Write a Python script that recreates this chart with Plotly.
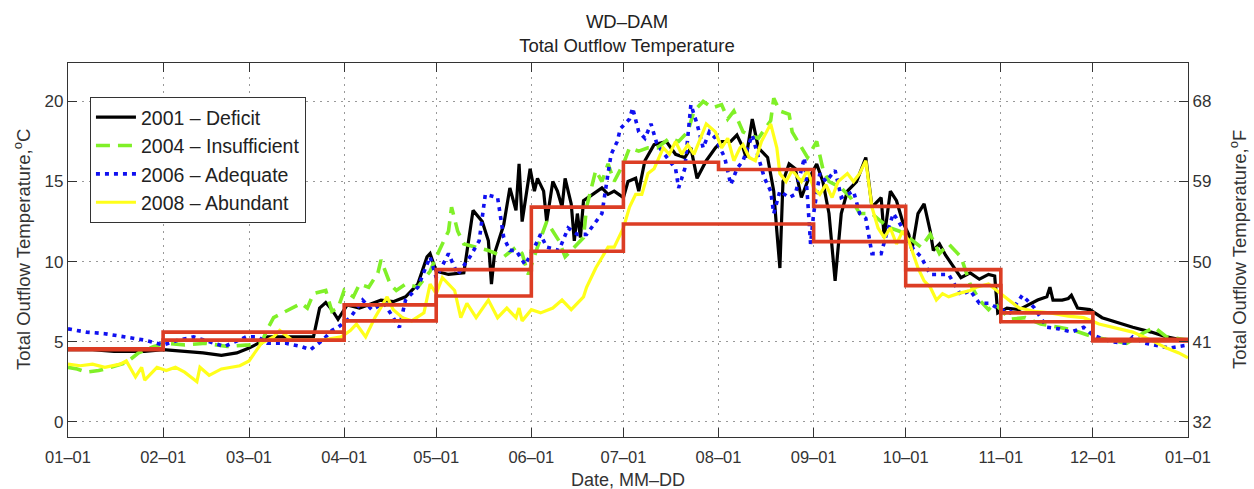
import pandas as pd
import plotly.graph_objects as go

# ---------------- data (day of year offset from 01-01, temperature in deg C) ----------------
deficit_days = [0, 8, 15, 25, 31, 38, 44, 50, 55, 59, 63, 65, 72, 80, 82, 84, 86, 88, 91, 95, 98, 102, 106, 110,
                114, 117, 118, 120, 124, 129, 132, 135, 137, 138, 139, 142, 144, 146, 147, 148, 150.6, 152, 153,
                155, 156, 158, 159.5, 161, 162, 164, 165, 166, 167, 168, 171, 174, 176, 178, 181, 182.5, 185, 186,
                188, 191, 195, 198, 201, 203, 205, 208, 211, 213, 216, 218, 220, 221, 223, 225, 228, 230, 231, 232,
                233, 235, 237, 239, 241, 244, 246, 248, 250, 252, 254, 257, 260, 262, 265, 266, 268, 270, 272, 274,
                275, 277, 279, 281, 282, 284, 286, 289, 291, 294, 297, 300, 302, 303, 306, 310, 313, 316, 319, 320,
                321, 324, 326, 327, 329, 333, 337, 342, 347, 353, 358, 362, 365]
deficit_vals = [4.5, 4.5, 4.4, 4.4, 4.5, 4.4, 4.3, 4.15, 4.3, 4.6, 5.0, 5.3, 5.3, 5.3, 7.1, 7.45, 7.0, 6.4, 7.3, 7.1,
                7.3, 7.6, 7.5, 7.8, 8.6, 10.3, 10.5, 9.4, 9.2, 9.3, 13.2, 12.5, 11.3, 8.6, 10.5, 12.3, 14.6, 13.2,
                16.1, 12.5, 15.8, 14.4, 15.2, 14.4, 12.5, 15.0, 14.4, 13.4, 15.2, 13.6, 11.3, 13.0, 11.5, 13.8, 14.2,
                14.6, 14.2, 14.4, 14.0, 15.0, 15.2, 14.4, 16.3, 17.3, 17.5, 16.7, 16.5, 17.1, 15.2, 16.3, 17.1, 17.5,
                17.5, 17.9, 17.1, 16.5, 18.9, 17.1, 16.5, 14.4, 11.9, 9.6, 15.0, 16.1, 15.8, 14.0, 15.0, 16.1, 15.0,
                13.0, 8.8, 13.0, 14.4, 15.0, 16.5, 13.4, 14.0, 11.5, 14.4, 13.8, 12.5, 11.7, 10.7, 13.0, 13.6, 11.9,
                10.7, 11.1, 10.4, 9.6, 9.0, 9.3, 8.9, 9.2, 9.1, 6.8, 7.1, 7.0, 7.3, 7.6, 7.8, 8.4, 7.6, 7.6, 7.7,
                7.9, 7.1, 7.0, 6.5, 6.2, 5.9, 5.6, 5.3, 5.15, 5.1]

insuff_days = [0, 3, 6, 10, 14, 19, 23, 28, 32, 38, 45, 52, 59, 63, 65, 67, 71, 76, 78, 80, 84, 86, 88, 90, 93, 95,
               98, 101, 102, 104, 105, 107, 110, 114, 118, 121, 124, 125, 127, 129, 133, 137, 142, 146, 148, 150,
               153, 156, 160, 162, 165, 168, 169, 172, 174, 176, 178, 181, 183, 186, 189, 192, 196, 199, 202, 204,
               207, 210, 213, 215, 217, 220, 222, 225, 229, 230, 232, 235, 236, 239, 241, 244, 246, 248, 252, 255,
               258, 262, 265, 268, 271, 274, 278, 281, 284, 287, 291, 294, 297, 300, 302, 304, 307, 312, 317, 323,
               328, 334, 340, 345, 350, 354, 358, 365]
insuff_vals = [3.4, 3.3, 3.1, 3.2, 3.4, 3.7, 4.3, 4.7, 4.9, 4.8, 4.9, 4.7, 4.8, 4.9, 5.8, 6.5, 6.9, 7.4, 7.1, 8.0,
               8.2, 6.9, 7.1, 8.2, 7.8, 8.6, 8.4, 9.3, 10.1, 9.0, 8.6, 8.2, 8.6, 8.4, 9.4, 10.7, 11.9, 13.4, 11.9,
               11.1, 10.9, 10.7, 10.3, 10.9, 10.5, 9.2, 10.9, 12.5, 11.3, 10.3, 10.9, 11.5, 13.4, 15.7, 15.0, 16.1,
               15.0, 16.1, 17.1, 16.9, 17.1, 17.1, 17.7, 17.5, 18.1, 19.4, 20.0, 19.6, 19.8, 18.9, 19.4, 18.1, 17.9,
               17.7, 18.8, 20.2, 19.4, 19.2, 18.1, 17.1, 16.5, 17.5, 15.8, 15.0, 14.6, 14.0, 13.0, 13.0, 12.5, 12.1,
               11.9, 11.5, 10.9, 11.7, 10.5, 11.1, 10.3, 8.6, 7.6, 7.0, 7.4, 7.0, 6.4, 6.5, 6.1, 5.9, 5.7, 5.3, 5.1,
               4.9, 5.5, 5.9, 5.3, 5.1]

adequate_days = [0, 6, 12, 19, 25, 31, 36, 41, 46, 51, 58, 62, 65, 71, 76, 79, 83, 86, 88, 92, 96, 99, 103, 106,
                 108, 110, 114, 118, 120, 124, 127, 131, 134, 136, 140, 142, 144, 146, 149, 152, 154, 156, 160, 163,
                 166, 169, 172, 174, 176, 177, 179, 180, 183, 184, 186, 188, 190, 192, 196, 198, 199, 201, 203, 205,
                 207, 209, 211, 214, 216, 218, 220, 223, 225, 227, 229, 230, 232, 235, 237, 240, 241, 242, 243, 245,
                 247, 250, 252, 256, 258, 260, 262, 265, 267, 269, 272, 274, 278, 281, 284, 287, 291, 294, 297, 300,
                 304, 307, 311, 315, 319, 323, 327, 331, 334, 340, 345, 347, 351, 359, 365]
adequate_vals = [5.8, 5.6, 5.5, 5.3, 5.1, 4.8, 5.1, 5.3, 5.0, 4.7, 5.3, 5.3, 4.9, 4.9, 4.7, 4.5, 5.1, 5.7, 5.9,
                 6.5, 7.6, 7.0, 7.4, 6.5, 5.9, 7.6, 8.4, 10.3, 9.0, 10.5, 9.2, 10.3, 11.3, 14.2, 14.0, 11.5, 10.7,
                 10.7, 9.8, 10.9, 11.7, 10.9, 10.7, 12.1, 11.7, 11.7, 12.5, 13.0, 15.5, 16.7, 17.5, 18.3, 18.9, 19.6,
                 18.1, 17.7, 18.6, 17.3, 16.3, 15.8, 14.6, 15.8, 19.8, 18.6, 17.1, 18.1, 17.7, 16.5, 14.8, 15.8, 16.3,
                 17.9, 16.5, 15.2, 14.4, 13.0, 14.4, 14.0, 14.2, 16.5, 14.0, 11.1, 13.0, 15.5, 15.0, 15.7, 14.0, 14.4,
                 13.0, 12.7, 10.5, 10.5, 11.9, 13.0, 12.1, 11.1, 10.3, 9.2, 9.2, 9.2, 7.9, 8.2, 7.4, 7.4, 7.0, 6.8,
                 7.9, 7.1, 5.9, 5.8, 5.6, 5.9, 5.4, 5.0, 4.9, 5.3, 4.9, 4.6, 4.8]

abundant_days = [0, 4, 8, 12, 17, 19, 22, 24, 25, 29, 32, 35, 38, 42, 43, 46, 50, 56, 59, 63, 67, 69, 73, 78, 83,
                 89, 92, 94, 97, 100, 104, 106, 109, 112, 116, 118, 120, 122, 126, 128, 130, 133, 137, 140, 143, 146,
                 147, 148, 151, 154, 158, 161, 164, 168, 169, 172, 174, 176, 178, 181, 183, 185, 187, 189, 191, 194,
                 196, 198, 200, 202, 204, 208, 211, 213, 215, 217, 219, 220, 222, 224, 226, 229, 231, 232, 234, 236,
                 239, 241, 243, 245, 247, 249, 251, 254, 256, 258, 260, 262, 264, 266, 268, 270, 272, 274, 277, 279,
                 281, 283, 285, 287, 290, 294, 296, 300, 304, 306, 310, 315, 320, 326, 331, 336, 342, 347, 353, 358,
                 362, 365]
abundant_vals = [3.6, 3.5, 3.6, 3.4, 3.6, 3.8, 2.8, 3.4, 2.6, 3.4, 3.2, 3.4, 3.1, 2.5, 3.4, 2.9, 3.3, 3.5, 3.8,
                 4.9, 5.3, 5.7, 5.1, 5.1, 5.1, 5.3, 5.7, 6.1, 5.3, 6.5, 7.8, 7.0, 6.5, 6.3, 6.8, 8.6, 8.0, 9.0, 8.2,
                 6.5, 7.4, 6.5, 7.6, 6.5, 7.1, 6.5, 7.1, 6.3, 7.0, 6.8, 7.1, 7.6, 7.0, 7.8, 8.4, 9.6, 10.3, 10.9,
                 10.9, 12.1, 13.4, 14.2, 14.2, 15.5, 15.8, 17.1, 16.7, 17.5, 16.7, 17.3, 16.7, 18.6, 18.1, 17.1, 17.7,
                 16.3, 17.1, 17.3, 16.5, 16.3, 17.5, 18.6, 17.1, 15.5, 15.0, 15.7, 15.0, 15.7, 14.6, 14.2, 14.8, 14.0,
                 15.0, 15.5, 15.0, 15.5, 16.3, 13.4, 12.1, 11.5, 12.1, 11.1, 11.9, 11.3, 9.6, 8.8, 8.4, 7.6, 8.0, 7.8,
                 8.0, 8.2, 8.4, 8.6, 8.0, 7.7, 7.1, 6.9, 6.8, 6.6, 6.5, 6.1, 5.8, 5.6, 5.1, 4.6, 4.3, 4.0]

# monthly step targets (two red step lines), month starts plus the year end
step_days = [0, 31, 59, 90, 120, 151, 181, 212, 243, 273, 304, 334, 365]
step_upper = [4.55, 5.6, 5.6, 7.3, 9.5, 13.4, 16.2, 15.75, 13.45, 9.5, 6.8, 5.15, 5.15]
step_lower = [4.5, 5.1, 5.1, 6.3, 7.85, 10.65, 12.35, 12.35, 11.25, 8.5, 6.25, 5.05, 5.05]

legend_names = ["2001 – Deficit", "2004 – Insufficient", "2006 – Adequate", "2008 – Abundant"]
f_ticks = [32, 41, 50, 59, 68]
c_ticks = [0, 5, 10, 15, 20]

# ---------------- build figure ----------------
start = pd.Timestamp("2001-01-01")


def to_dates(days):
    return [start + pd.Timedelta(days=d) for d in days]


fig = go.Figure()

series = [
    (deficit_days, deficit_vals, legend_names[0], dict(color="black", width=3.2)),
    (insuff_days, insuff_vals, legend_names[1], dict(color="#80f028", width=3.6, dash="14px,8px")),
    (adequate_days, adequate_vals, legend_names[2], dict(color="#1010f0", width=3.6, dash="4px,5px")),
    (abundant_days, abundant_vals, legend_names[3], dict(color="#ffff1a", width=3.2)),
]
for d, v, name, line in series:
    fig.add_trace(go.Scatter(x=to_dates(d), y=v, mode="lines", name=name, line=line))

for vals in (step_lower, step_upper):
    fig.add_trace(go.Scatter(x=to_dates(step_days), y=vals, mode="lines", line_shape="hv",
                             line=dict(color="#dc3d24", width=3.6), showlegend=False, hoverinfo="skip"))

y_lo, y_hi = -0.95, 22.4
font = "Liberation Sans, Arial, Helvetica, sans-serif"
grid_dash = "2px,5px"

fig.update_layout(
    width=1254, height=489,
    margin=dict(l=68, r=66, t=63, b=52),
    paper_bgcolor="white", plot_bgcolor="white",
    font=dict(family=font, size=17, color="#333"),
    title=dict(text="WD–DAM<br>Total Outflow Temperature", x=0.5, xanchor="center",
               y=1 - 27.5 / 489, yanchor="middle", font=dict(size=18.5, color="#222")),
    showlegend=True,
    legend=dict(x=0.0196, y=0.909, xanchor="left", yanchor="top", bgcolor="white",
                bordercolor="#333", borderwidth=1, font=dict(size=19.5, color="#222"),
                itemwidth=40),
    xaxis=dict(type="date", range=[start, start + pd.Timedelta(days=365)],
               tick0="2001-01-01", dtick="M1", tickformat="%m–%d",
               ticks="inside", ticklen=9, tickcolor="#333", mirror="ticks",
               showline=True, linecolor="#333", linewidth=1.2, ticklabelstandoff=5,
               showgrid=True, gridcolor="#999", griddash=grid_dash, gridwidth=1,
               zeroline=False, tickfont=dict(size=16.5, color="#333")),
    yaxis=dict(range=[y_lo, y_hi], tickvals=c_ticks, ticks="inside", ticklen=9, tickcolor="#333",
               showline=True, linecolor="#333", linewidth=1.2, mirror=True,
               showgrid=True, gridcolor="#999", griddash=grid_dash, gridwidth=1,
               zeroline=False, tickfont=dict(size=17, color="#333")),
    yaxis2=dict(range=[y_lo * 1.8 + 32, y_hi * 1.8 + 32], tickvals=f_ticks, overlaying="y", side="right",
                ticks="inside", ticklen=9, tickcolor="#333", showline=True, linecolor="#333", linewidth=1.2,
                showgrid=False, zeroline=False, tickfont=dict(size=17, color="#333")),
    annotations=[
        dict(text="Total Outflow Temperature,<sup>o</sup>C", xref="paper", yref="paper",
             x=(22 - 68) / 1120, y=0.5, textangle=-90, showarrow=False, xanchor="center", yanchor="middle",
             font=dict(size=18.5, color="#333")),
        dict(text="Total Outflow Temperature,<sup>o</sup>F", xref="paper", yref="paper",
             x=(1238 - 68) / 1120, y=0.5, textangle=-90, showarrow=False, xanchor="center", yanchor="middle",
             font=dict(size=18.5, color="#333")),
        dict(text="Date, MM–DD", xref="paper", yref="paper", x=0.5, y=(437 - 480) / 374,
             showarrow=False, xanchor="center", yanchor="middle", font=dict(size=18, color="#333")),
    ],
)

# invisible helper so the Fahrenheit axis is rendered
fig.add_trace(go.Scatter(x=[None], y=[None], yaxis="y2", showlegend=False, hoverinfo="skip"))

fig.write_html("out.html")
